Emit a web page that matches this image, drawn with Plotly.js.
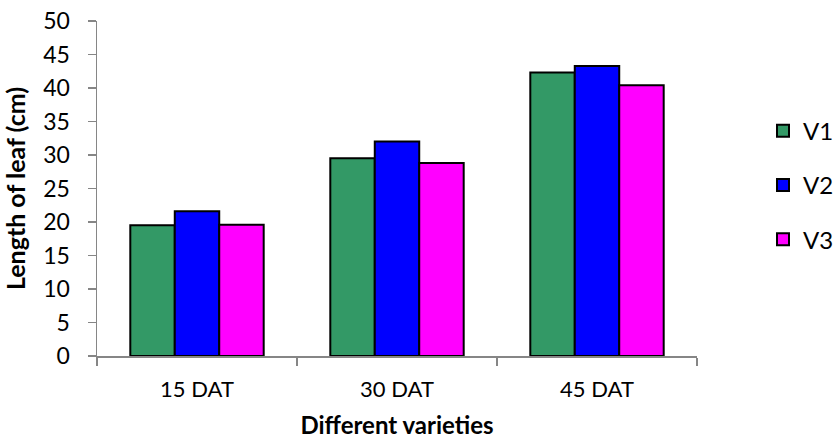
<!DOCTYPE html>
<html>
<head>
<meta charset="utf-8">
<script src="https://cdn.plot.ly/plotly-3.0.1.min.js"></script>
<style>html,body{margin:0;padding:0;background:#fff;}#chart{width:838px;height:443px;}</style>
</head>
<body>
<div id="chart"></div>
<script>
var categories = ["15 DAT", "30 DAT", "45 DAT"];
var seriesNames = ["V1", "V2", "V3"];
var v1 = [19.5, 29.5, 42.3];
var v2 = [21.6, 32.0, 43.3];
var v3 = [19.6, 28.8, 40.4];
var colors = ["#339966", "#0000FF", "#FF00FF"];
var yTicks = [0, 5, 10, 15, 20, 25, 30, 35, 40, 45, 50];

var FONT = "Lato, 'Open Sans', sans-serif";
var values = [v1, v2, v3];
var data = values.map(function (vals, i) {
  return {
    type: "bar",
    name: seriesNames[i],
    legendgroup: seriesNames[i],
    x: categories,
    y: vals,
    marker: { color: colors[i], line: { color: "#000000", width: 2 } },
    hoverinfo: "x+y+name"
  };
});

var layout = {
  width: 838,
  height: 443,
  margin: { l: 97, r: 141, t: 21, b: 87, autoexpand: false },
  paper_bgcolor: "#ffffff",
  plot_bgcolor: "#ffffff",
  barmode: "group",
  bargap: 0.333,
  bargroupgap: 0,
  font: { family: FONT, size: 22, color: "#000000" },
  showlegend: true,
  legend: {
    x: 1.11, y: 0.51, xanchor: "left", yanchor: "middle",
    traceorder: "grouped",
    tracegroupgap: 20,
    font: { family: FONT, size: 24, color: "#000000" },
    itemwidth: 30
  },
  xaxis: {
    type: "category",
    showline: true, linecolor: "#868686", linewidth: 1.5,
    ticks: "outside", tickson: "boundaries", ticklen: 8, tickcolor: "#868686", tickwidth: 1.5,
    ticklabelstandoff: 13,
    showgrid: false, zeroline: false,
    tickfont: { family: FONT, size: 22 },
    title: { text: "<b>Different varieties</b>", font: { family: FONT, size: 24 }, standoff: 16 }
  },
  yaxis: {
    range: [0, 50],
    tickvals: yTicks,
    showline: true, linecolor: "#868686", linewidth: 1.5,
    ticks: "outside", ticklen: 8, tickcolor: "#868686", tickwidth: 1.5,
    ticklabelstandoff: 13,
    showgrid: false, zeroline: false,
    tickfont: { family: FONT, size: 23 },
    title: { text: "<b>Length of leaf (cm)</b>", font: { family: FONT, size: 25 }, standoff: 10 }
  }
};

Plotly.newPlot("chart", data, layout, { staticPlot: true, displayModeBar: false });
</script>
</body>
</html>
